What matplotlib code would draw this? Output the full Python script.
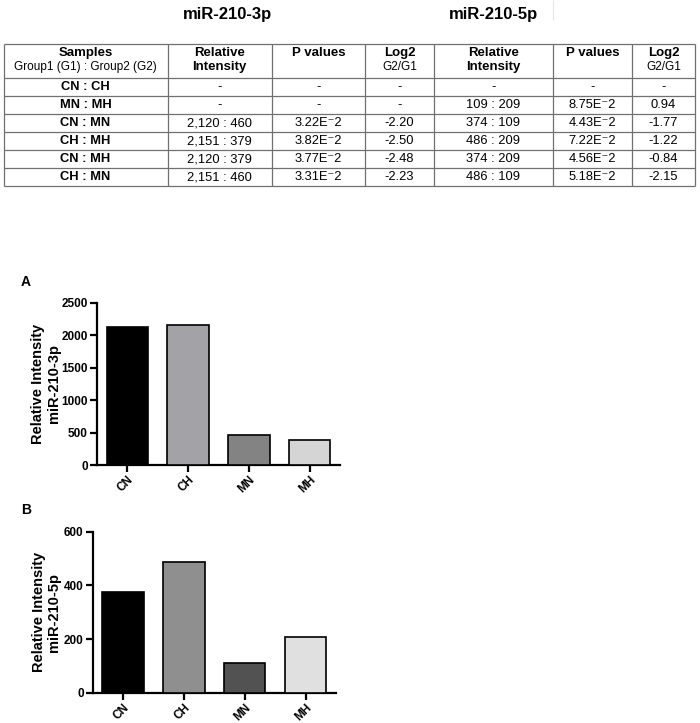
import matplotlib
matplotlib.use("Agg")
import matplotlib.pyplot as plt

plt.rcParams['font.family'] = ['Liberation Sans', 'DejaVu Sans']

# table data
samples = ["CN : CH", "MN : MH", "CN : MN", "CH : MH", "CN : MH", "CH : MN"]
ri_3p = ["-", "-", "2,120 : 460", "2,151 : 379", "2,120 : 379", "2,151 : 460"]
p_3p = ["-", "-", "3.22E⁻2", "3.82E⁻2", "3.77E⁻2", "3.31E⁻2"]
log2_3p = ["-", "-", "-2.20", "-2.50", "-2.48", "-2.23"]
ri_5p = ["-", "109 : 209", "374 : 109", "486 : 209", "374 : 209", "486 : 109"]
p_5p = ["-", "8.75E⁻2", "4.43E⁻2", "7.22E⁻2", "4.56E⁻2", "5.18E⁻2"]
log2_5p = ["-", "0.94", "-1.77", "-1.22", "-0.84", "-2.15"]

# bar chart data
groups = ["CN", "CH", "MN", "MH"]
vals_3p = [2120, 2151, 460, 379]
vals_5p = [374, 486, 109, 209]
colors_3p = ["#000000", "#a2a2a7", "#838383", "#d5d5d5"]
colors_5p = ["#000000", "#8f8f8f", "#525252", "#e0e0e0"]

W, H = 700, 723
fig = plt.figure(figsize=(W / 100, H / 100), dpi=100)

# ---- table drawn in pixel coordinates ----
tab = fig.add_axes([0, 0, 1, 1])
tab.set_xlim(0, W)
tab.set_ylim(H, 0)
tab.axis("off")

col_x = [3.5, 167.5, 271.5, 365, 434, 553, 632, 695]
top, head_bot, row_h = 44, 78, 18
n_rows = len(samples)
bottom = head_bot + row_h * n_rows
line_c = "#707070"

tab.vlines(col_x, top, bottom, color=line_c, lw=0.9)
row_lines = [top, head_bot] + [head_bot + row_h * (i + 1) for i in range(n_rows)]
tab.hlines(row_lines, col_x[0], col_x[-1], color=line_c, lw=0.9)

centers = [(col_x[i] + col_x[i + 1]) / 2 for i in range(len(col_x) - 1)]
l1, l2 = 53, 67
hb = dict(fontsize=9.5, fontweight="bold", ha="center", va="center")
hr = dict(fontsize=8.5, ha="center", va="center")

tab.text(centers[0], l1, "Samples", **hb)
tab.text(centers[0], l2, "Group1 (G1) : Group2 (G2)", **hr)
for k in (1, 4):
    tab.text(centers[k], l1, "Relative", **hb)
    tab.text(centers[k], l2, "Intensity", **hb)
for k in (2, 5):
    tab.text(centers[k], l1, "P values", **hb)
for k in (3, 6):
    tab.text(centers[k], l1, "Log2", **hb)
    tab.text(centers[k], l2, "G2/G1", **hr)

columns = [samples, ri_3p, p_3p, log2_3p, ri_5p, p_5p, log2_5p]
for k, col in enumerate(columns):
    for i, val in enumerate(col):
        y = head_bot + row_h * (i + 0.5)
        tab.text(centers[k], y, val, fontsize=9.3, ha="center", va="center",
                 fontweight="bold" if k == 0 else "normal")

fig.text(227 / W, 1 - 19 / H, "miR-210-3p", fontsize=12, fontweight="bold",
         ha="center", va="baseline")
fig.text(494 / W, 1 - 19 / H, "miR-210-5p", fontsize=12, fontweight="bold",
         ha="center", va="baseline")
tab.vlines(553, 0, 20, color="#e6e6e6", lw=0.8)


# ---- bar charts ----
def bar_panel(rect, vals, colors, ymax, step, label):
    ax = fig.add_axes(rect)
    ax.bar(range(len(groups)), vals, width=0.68, color=colors,
           edgecolor="black", linewidth=1.2, zorder=3)
    ax.set_xlim(-0.5, 3.5)
    ax.set_ylim(0, ymax)
    ax.set_yticks(range(0, ymax + 1, step))
    ax.set_xticks(range(len(groups)))
    ax.set_xticklabels(groups, rotation=45, ha="right", rotation_mode="anchor",
                       fontsize=8.5, fontweight="bold")
    for t in ax.get_yticklabels():
        t.set_fontweight("bold")
        t.set_fontsize(8.5)
    for s in ("top", "right"):
        ax.spines[s].set_visible(False)
    for s in ("left", "bottom"):
        ax.spines[s].set_linewidth(1.6)
    ax.tick_params(width=1.6, length=5, pad=1.5)
    ax.set_ylabel(label, fontsize=10.5, fontweight="bold", linespacing=1.1)
    return ax


axA = bar_panel([97 / W, 1 - 465 / H, 243 / W, 162.5 / H], vals_3p, colors_3p,
                2500, 500, "Relative Intensity\nmiR-210-3p")
axB = bar_panel([92.7 / W, 1 - 692.7 / H, 243.3 / W, 161 / H], vals_5p, colors_5p,
                600, 200, "Relative Intensity\nmiR-210-5p")
axA.yaxis.set_label_coords(-0.15, 0.5)
axB.yaxis.set_label_coords(-0.13, 0.5)

fig.text(26 / W, 1 - 282.5 / H, "A", fontsize=10, fontweight="bold", ha="center", va="center")
fig.text(26 / W, 1 - 510 / H, "B", fontsize=10, fontweight="bold", ha="center", va="center")

fig.savefig("out.png", dpi=100)
